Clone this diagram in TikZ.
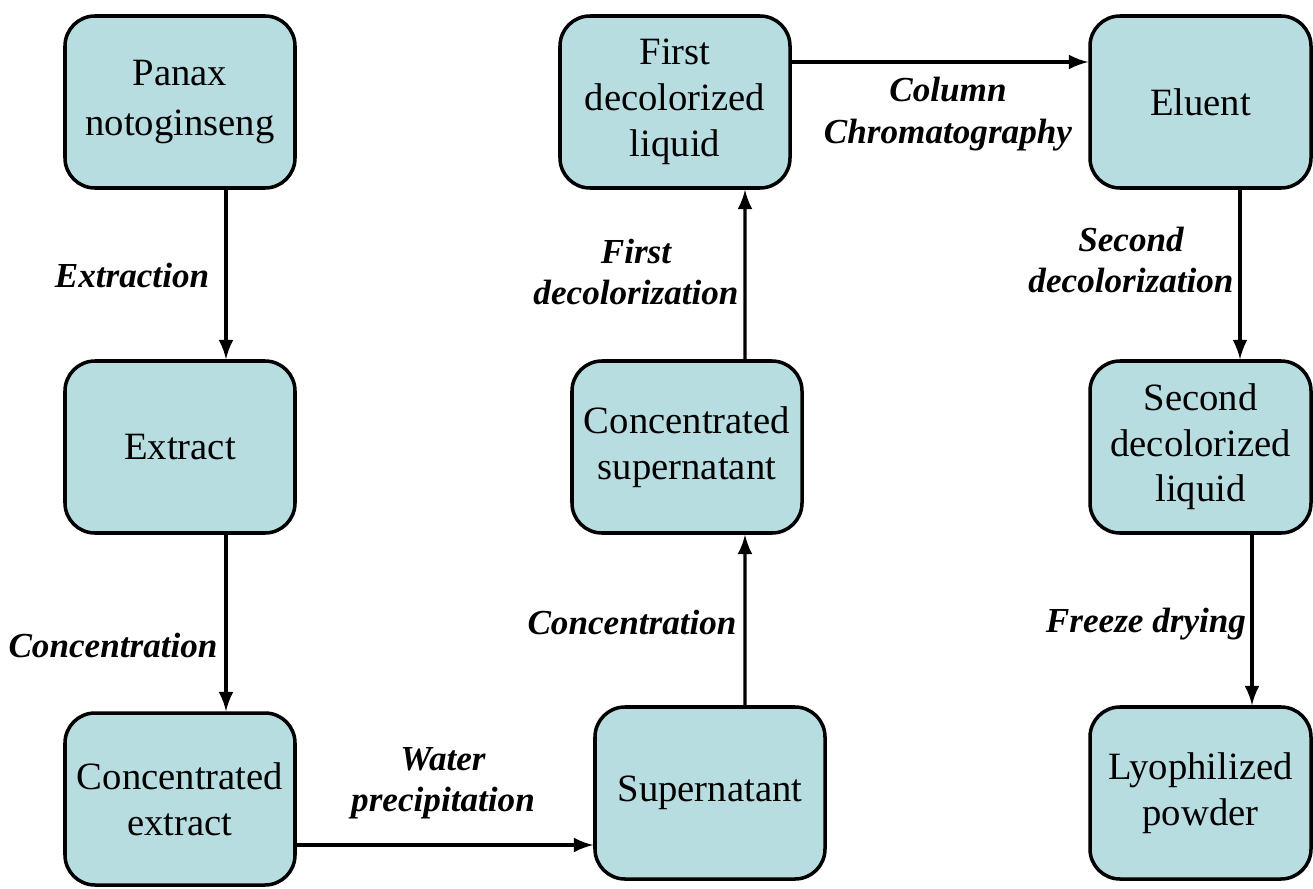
\documentclass[tikz,border=0pt]{standalone}
\usepackage{fontspec}
\setmainfont{Liberation Serif}
\newfontfamily\timesfont{Liberation Serif}
\usepackage{tikz}
\usetikzlibrary{arrows}
\usetikzlibrary{arrows.meta}
\usetikzlibrary{positioning}
\definecolor{boxfill}{HTML}{B8DDE1}
\tikzset{>=latex}
\tikzstyle{stage} = [rectangle, rounded corners=0.3cm, draw=black, line width=1pt, fill=boxfill, minimum width=2.3cm, minimum height=1.72cm, inner sep=0pt, align=center, font=\timesfont\fontsize{11}{13}\selectfont]
\tikzstyle{stageR} = [stage, minimum width=2.21cm]
\tikzstyle{flow} = [-latex, line width=0.9pt]
\tikzstyle{proc} = [align=center, font=\timesfont\fontsize{10}{11.8}\selectfont\bfseries\itshape]

\begin{document}
\begin{tikzpicture}
\useasboundingbox (0,0) rectangle (13.13,-8.89);
% left column
\node [stage] (pn) at (1.80, -1.02) {Panax\\[1pt]notoginseng};
\node [stage] (ext) at (1.80, -4.47) {Extract};
\node [stage] (cext) at (1.80, -7.99) {Concentrated\\extract};
% middle column
\node [stage] (sup) at (7.10, -7.93) {Supernatant};
\node [stage] (csup) at (6.87, -4.47) {Concentrated\\supernatant};
\node [stage] (fdl) at (6.75, -1.02) {First\\decolorized\\liquid};
% right column
\node [stageR] (elu) at (12.005, -1.02) {Eluent};
\node [stageR] (sdl) at (12.005, -4.47) {Second\\decolorized\\liquid};
\node [stageR] (lyo) at (12.005, -7.93) {Lyophilized\\powder};
% process labels
\node [proc] (l1) at (1.32, -2.75) {Extraction};
\node [proc] (l2) at (1.13, -6.45) {Concentration};
\node [proc] (l3) at (4.43, -7.83) {Water\\precipitation};
\node [proc] (l4) at (6.32, -6.22) {Concentration};
\node [proc] (l5) at (6.36, -2.72) {First\\decolorization};
\node [proc] (l6) at (9.48, -1.14) {Column\\Chromatography};
\node [proc] (l7) at (11.31, -2.60) {Second\\decolorization};
\node [proc] (l8) at (11.46, -6.24) {Freeze drying};
% connectors
\coordinate (ce) at ([yshift=-0.46cm]cext.east);
\draw [flow] ([xshift=0.46cm]pn.south) to ([xshift=0.46cm]ext.north);
\draw [flow] ([xshift=0.46cm]ext.south) to ([xshift=0.46cm]cext.north);
\draw [flow] (ce) to (ce -| sup.west);
\draw [flow] ([xshift=0.35cm]sup.north) to ([xshift=0.58cm]csup.south);
\draw [flow] ([xshift=0.58cm]csup.north) to ([xshift=0.70cm]fdl.south);
\draw [flow] ([yshift=0.40cm]fdl.east) to ([yshift=0.40cm]elu.west);
\draw [flow] ([xshift=0.395cm]elu.south) to ([xshift=0.395cm]sdl.north);
\draw [flow] ([xshift=0.515cm]sdl.south) to ([xshift=0.515cm]lyo.north);
\end{tikzpicture}
\end{document}
